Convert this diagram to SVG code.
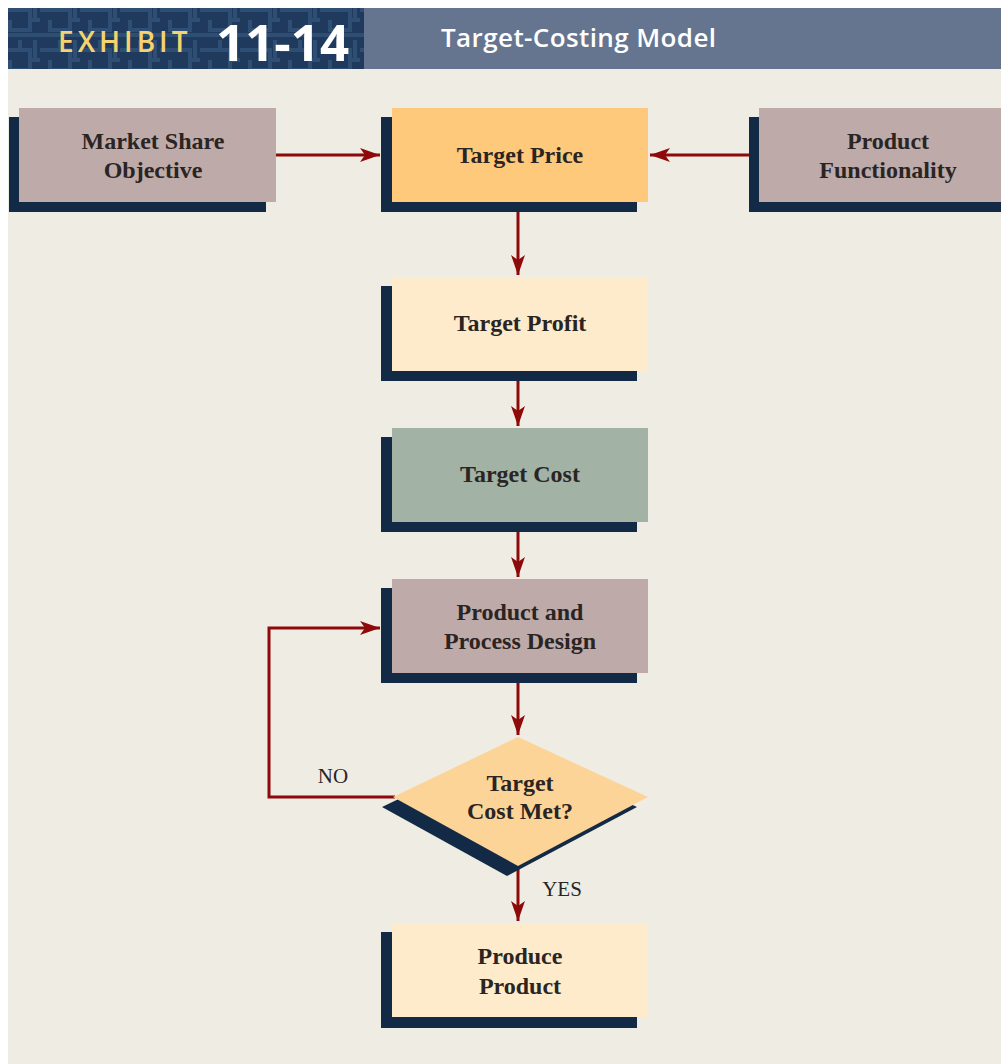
<svg xmlns="http://www.w3.org/2000/svg" width="1001" height="1064" viewBox="0 0 1001 1064">
<defs>
<pattern id="maze" width="40" height="40" patternUnits="userSpaceOnUse">
<rect width="40" height="40" fill="#1f3a5c"/>
<path d="M0 10H30V30H10V20M20 0V10M40 20H30M0 35H40M35 0V20" fill="none" stroke="#2f4e74" stroke-width="4"/>
</pattern>
<marker id="ah" viewBox="0 0 20 14" refX="20" refY="7" markerWidth="20" markerHeight="14" markerUnits="userSpaceOnUse" orient="auto">
<path d="M0 0L20 7L0 14L5 7Z" fill="#8e0a0a"/>
</marker>
<style>
.sh{fill:#122a45}
.mauve{fill:#bdaaa9}
.lbl{font-family:"Liberation Serif",serif;font-weight:bold;font-size:24px;fill:#2a2523;text-anchor:middle}
.sm{font-family:"Liberation Serif",serif;font-size:21px;fill:#2a2523;text-anchor:middle}
.cn{fill:none;stroke:#8e0a0a;stroke-width:3}
</style>
</defs>
<rect x="0" y="0" width="1001" height="1064" fill="#ffffff"/>
<rect x="8" y="69" width="993" height="995" fill="#efede3"/>
<g id="header">
<rect x="8" y="8" width="356" height="61" fill="url(#maze)"/>
<rect x="364" y="8" width="637" height="61" fill="#66758f"/>
<text x="58" y="52" font-family="Open Sans, sans-serif" font-weight="600" font-size="28" letter-spacing="4" fill="#f5d36e">EXHIBIT</text>
<text x="216" y="61" font-family="Open Sans, sans-serif" font-weight="bold" font-size="51" fill="#ffffff">11-14</text>
<text x="441" y="47" font-family="Open Sans, sans-serif" font-weight="600" font-size="26" letter-spacing="0.4" fill="#ffffff">Target-Costing Model</text>
</g>
<g id="connectors">
<line class="cn" x1="276" y1="155" x2="380" y2="155" marker-end="url(#ah)"/>
<line class="cn" x1="759" y1="155" x2="650" y2="155" marker-end="url(#ah)"/>
<line class="cn" x1="518" y1="202" x2="518" y2="275" marker-end="url(#ah)"/>
<line class="cn" x1="518" y1="370" x2="518" y2="426" marker-end="url(#ah)"/>
<line class="cn" x1="518" y1="521" x2="518" y2="577" marker-end="url(#ah)"/>
<line class="cn" x1="518" y1="672" x2="518" y2="735" marker-end="url(#ah)"/>
<line class="cn" x1="518" y1="866" x2="518" y2="921" marker-end="url(#ah)"/>
<polyline class="cn" points="395,797 269,797 269,628 380,628" marker-end="url(#ah)"/>
<text class="sm" x="333" y="783">NO</text>
<text class="sm" x="562" y="896">YES</text>
</g>
<g id="market-share">
<rect class="sh" x="9" y="117" width="257" height="95"/>
<rect class="mauve" x="19" y="108" width="257" height="94"/>
<text class="lbl" x="153" y="149">Market Share</text>
<text class="lbl" x="153" y="178">Objective</text>
</g>
<g id="target-price">
<rect class="sh" x="381" y="117" width="256" height="95"/>
<rect x="392" y="108" width="256" height="94" fill="#fec97a"/>
<text class="lbl" x="520" y="163">Target Price</text>
</g>
<g id="product-functionality">
<rect class="sh" x="749" y="117" width="252" height="95"/>
<rect class="mauve" x="759" y="108" width="242" height="94"/>
<text class="lbl" x="888" y="149">Product</text>
<text class="lbl" x="888" y="178">Functionality</text>
</g>
<g id="target-profit">
<rect class="sh" x="381" y="286" width="256" height="95"/>
<rect x="392" y="277" width="256" height="94" fill="#fdebcc"/>
<text class="lbl" x="520" y="331">Target Profit</text>
</g>
<g id="target-cost">
<rect class="sh" x="381" y="437" width="256" height="95"/>
<rect x="392" y="428" width="256" height="94" fill="#a2b2a5"/>
<text class="lbl" x="520" y="482">Target Cost</text>
</g>
<g id="design">
<rect class="sh" x="381" y="588" width="256" height="95"/>
<rect class="mauve" x="392" y="579" width="256" height="94"/>
<text class="lbl" x="520" y="620">Product and</text>
<text class="lbl" x="520" y="649">Process Design</text>
</g>
<g id="decision">
<polygon class="sh" points="507,747 637,807 507,876 382,807"/>
<polygon points="518,737 648,797 518,866 393,797" fill="#fdd497"/>
<text class="lbl" x="520" y="791">Target</text>
<text class="lbl" x="520" y="819">Cost Met?</text>
</g>
<g id="produce">
<rect class="sh" x="381" y="932" width="256" height="96"/>
<rect x="392" y="923" width="256" height="94" fill="#fdebcc"/>
<text class="lbl" x="520" y="964">Produce</text>
<text class="lbl" x="520" y="994">Product</text>
</g>
</svg>
